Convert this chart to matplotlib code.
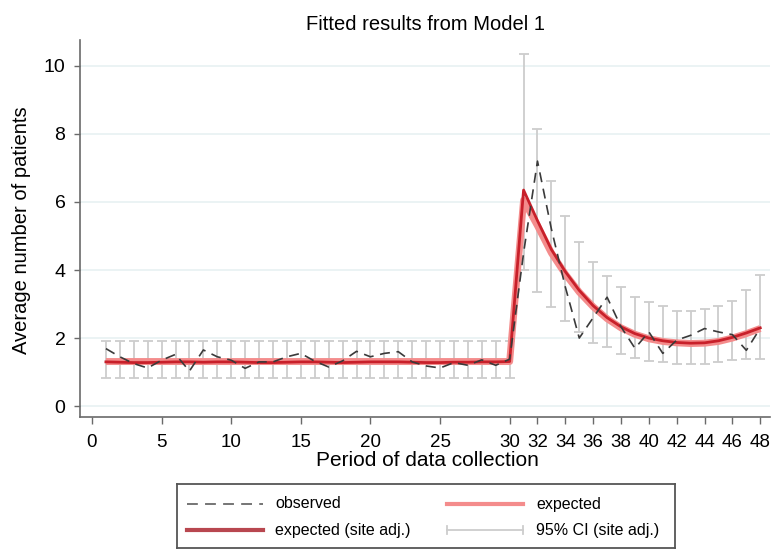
import matplotlib
matplotlib.use("Agg")
import matplotlib.pyplot as plt
from matplotlib.lines import Line2D

plt.rcParams['font.family'] = ['Liberation Sans']

# ---------------- data ----------------
periods = list(range(1, 49))

observed = [1.69, 1.45, 1.25, 1.12, 1.35, 1.52, 1.03, 1.65, 1.45, 1.35,
            1.11, 1.30, 1.30, 1.45, 1.55, 1.32, 1.15, 1.33, 1.61, 1.45,
            1.55, 1.60, 1.30, 1.18, 1.12, 1.28, 1.20, 1.36, 1.20, 1.38,
            4.50, 7.20, 5.20, 3.50, 2.00, 2.60, 3.20, 2.33, 1.70, 2.18,
            1.55, 1.94, 2.08, 2.28, 2.18, 2.10, 1.64, 2.29]

expected = [1.31] * 30 + [6.05, 5.30, 4.50, 3.88, 3.35, 2.92, 2.57, 2.30, 2.11,
                          1.98, 1.90, 1.86, 1.84, 1.85, 1.90, 2.00, 2.13, 2.28]

expected_site = [1.30, 1.29, 1.28, 1.28, 1.29, 1.30, 1.30, 1.29, 1.30, 1.30,
                 1.29, 1.28, 1.28, 1.29, 1.30, 1.30, 1.29, 1.28, 1.29, 1.30,
                 1.30, 1.30, 1.29, 1.28, 1.28, 1.29, 1.29, 1.30, 1.30, 1.31,
                 6.35, 5.45, 4.60, 3.95, 3.40, 2.95, 2.60, 2.33, 2.13, 2.00,
                 1.92, 1.87, 1.85, 1.86, 1.92, 2.02, 2.15, 2.30]

ci_low = [0.84] * 30 + [3.99, 3.35, 2.91, 2.50, 2.18, 1.85, 1.74, 1.52, 1.40,
                        1.33, 1.30, 1.25, 1.25, 1.25, 1.30, 1.35, 1.38, 1.38]
ci_high = [1.92] * 30 + [10.35, 8.15, 6.63, 5.58, 4.82, 4.23, 3.81, 3.49, 3.20,
                         3.06, 2.93, 2.80, 2.80, 2.84, 2.93, 3.09, 3.40, 3.84]

x_ticks = [0, 5, 10, 15, 20, 25, 30, 32, 34, 36, 38, 40, 42, 44, 46, 48]
y_ticks = [0, 2, 4, 6, 8, 10]

title = "Fitted results from Model 1"
xlabel = "Period of data collection"
ylabel = "Average number of patients"
legend_labels = ["observed", "expected", "expected (site adj.)", "95% CI (site adj.)"]

# ---------------- styles ----------------
c_obs = "#3a3a3a"
c_exp = "#F48C8C"
c_site = "#C8202A"
c_ci = "#CDCDCD"
c_grid = "#E8F1F2"
c_spine = "#6a6a6a"

W, H = 772, 550
fig = plt.figure(figsize=(W / 100, H / 100), dpi=100)
ax = fig.add_axes([80 / W, 1 - 417 / H, 690 / W, 377 / H])

# error bars
yerr_lo = [e - l for e, l in zip(expected_site, ci_low)]
yerr_hi = [h - e for e, h in zip(expected_site, ci_high)]
ax.errorbar(periods, expected_site, yerr=[yerr_lo, yerr_hi], fmt='none',
            ecolor=c_ci, elinewidth=1.3, capsize=3.4, capthick=1.3, zorder=2)

ax.plot(periods, expected, color=c_exp, lw=5, solid_capstyle='butt', zorder=3)
ax.plot(periods, expected_site, color=c_site, lw=2.0, zorder=4)
ax.plot(periods, observed, color=c_obs, lw=1.2, dashes=(6, 4), zorder=5)

ax.set_xlim(-0.86, 48.7)
ax.set_ylim(-0.32, 10.76)
ax.set_xticks(x_ticks)
ax.set_yticks(y_ticks)
ax.tick_params(axis='both', direction='out', width=1, color=c_spine, labelsize=14)
ax.tick_params(axis='x', length=5, pad=7, labelsize=13.5)
ax.tick_params(axis='y', length=4.5, pad=6)
for s in ['top', 'right']:
    ax.spines[s].set_visible(False)
for s in ['left', 'bottom']:
    ax.spines[s].set_color(c_spine)
    ax.spines[s].set_linewidth(1.2)
ax.yaxis.grid(True, color=c_grid, lw=1.2)
ax.set_axisbelow(True)

fig.text(426 / W, 1 - 25 / H, title, ha='center', va='center', fontsize=14.5)
fig.text(22 / W, 1 - 230 / H, ylabel, ha='center', va='center', rotation=90, fontsize=14.5)
fig.text(427 / W, 1 - 461 / H, xlabel, ha='center', va='center', fontsize=15)

# legend box drawn as its own small axes
lax = fig.add_axes([177 / W, 1 - 548 / H, (675 - 177) / W, (548 - 484) / H])
lax.set_xlim(177, 675)
lax.set_ylim(548, 484)
lax.set_xticks([])
lax.set_yticks([])
for s in lax.spines.values():
    s.set_color("#555555")
    s.set_linewidth(1.3)

row1, row2 = 504, 530
fs_leg = 11.5
lax.add_line(Line2D([187, 263], [row1, row1], color="#6a6a6a", lw=1.3, dashes=(6, 4)))
lax.text(275, row1, legend_labels[0], va='center', ha='left', fontsize=fs_leg)
lax.add_line(Line2D([447, 523], [row1, row1], color=c_exp, lw=3))
lax.text(536, row1, legend_labels[1], va='center', ha='left', fontsize=fs_leg)
lax.add_line(Line2D([187, 263], [row2, row2], color="#B8474F", lw=3))
lax.text(275, row2, legend_labels[2], va='center', ha='left', fontsize=fs_leg)
lax.add_line(Line2D([447, 523], [row2, row2], color=c_ci, lw=1.3))
lax.add_line(Line2D([447, 447], [row2 - 4, row2 + 4], color=c_ci, lw=1.3))
lax.add_line(Line2D([523, 523], [row2 - 4, row2 + 4], color=c_ci, lw=1.3))
lax.text(536, row2, legend_labels[3], va='center', ha='left', fontsize=fs_leg)

fig.savefig("out.png", dpi=100)
